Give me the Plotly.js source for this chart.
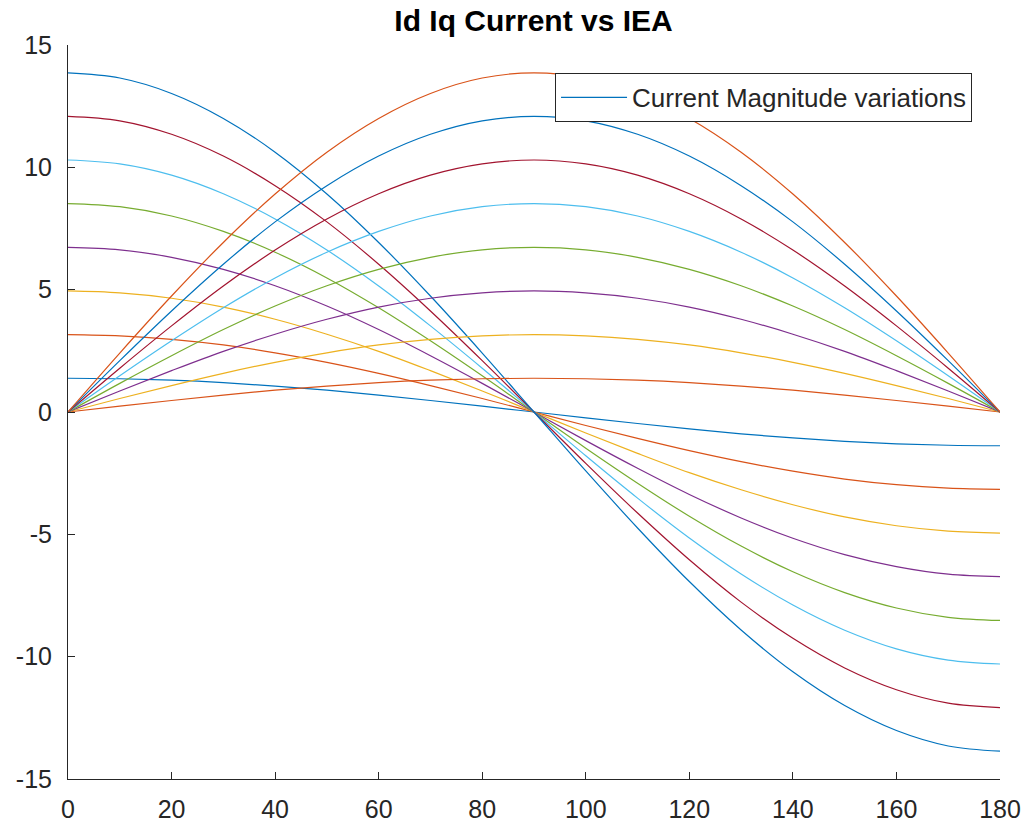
<!DOCTYPE html>
<html>
<head>
<meta charset="utf-8">
<script src="https://cdn.plot.ly/plotly-3.0.1.min.js"></script>
<style>
  html, body { margin: 0; padding: 0; background: #ffffff; }
  #chart { width: 1028px; height: 829px; }
</style>
</head>
<body>
<div id="chart"></div>
<script>
// Electrical angle (deg)
const angle = [0, 10, 20, 30, 40, 50, 60, 70, 80, 90, 100, 110, 120, 130, 140, 150, 160, 170, 180];

// Id for each current magnitude (A)
const id1 = [1.38, 1.36, 1.30, 1.20, 1.06, 0.89, 0.69, 0.47, 0.24, 0, -0.24, -0.47, -0.69, -0.89, -1.06, -1.20, -1.30, -1.36, -1.38];
const id2 = [3.16, 3.11, 2.97, 2.74, 2.42, 2.03, 1.58, 1.08, 0.55, 0, -0.55, -1.08, -1.58, -2.03, -2.42, -2.74, -2.97, -3.11, -3.16];
const id3 = [4.95, 4.87, 4.65, 4.29, 3.79, 3.18, 2.48, 1.69, 0.86, 0, -0.86, -1.69, -2.48, -3.18, -3.79, -4.29, -4.65, -4.87, -4.95];
const id4 = [6.73, 6.63, 6.32, 5.83, 5.16, 4.33, 3.37, 2.30, 1.17, 0, -1.17, -2.30, -3.37, -4.33, -5.16, -5.83, -6.32, -6.63, -6.73];
const id5 = [8.52, 8.39, 8.01, 7.38, 6.53, 5.48, 4.26, 2.91, 1.48, 0, -1.48, -2.91, -4.26, -5.48, -6.53, -7.38, -8.01, -8.39, -8.52];
const id6 = [10.30, 10.14, 9.68, 8.92, 7.89, 6.62, 5.15, 3.52, 1.79, 0, -1.79, -3.52, -5.15, -6.62, -7.89, -8.92, -9.68, -10.14, -10.30];
const id7 = [12.08, 11.90, 11.35, 10.46, 9.25, 7.77, 6.04, 4.13, 2.10, 0, -2.10, -4.13, -6.04, -7.77, -9.25, -10.46, -11.35, -11.90, -12.08];
const id8 = [13.86, 13.65, 13.02, 12.00, 10.62, 8.91, 6.93, 4.74, 2.41, 0, -2.41, -4.74, -6.93, -8.91, -10.62, -12.00, -13.02, -13.65, -13.86];

// Iq for each current magnitude (A)
const iq1 = [0, 0.24, 0.47, 0.69, 0.89, 1.06, 1.20, 1.30, 1.36, 1.38, 1.36, 1.30, 1.20, 1.06, 0.89, 0.69, 0.47, 0.24, 0];
const iq2 = [0, 0.55, 1.08, 1.58, 2.03, 2.42, 2.74, 2.97, 3.11, 3.16, 3.11, 2.97, 2.74, 2.42, 2.03, 1.58, 1.08, 0.55, 0];
const iq3 = [0, 0.86, 1.69, 2.48, 3.18, 3.79, 4.29, 4.65, 4.87, 4.95, 4.87, 4.65, 4.29, 3.79, 3.18, 2.48, 1.69, 0.86, 0];
const iq4 = [0, 1.17, 2.30, 3.37, 4.33, 5.16, 5.83, 6.32, 6.63, 6.73, 6.63, 6.32, 5.83, 5.16, 4.33, 3.37, 2.30, 1.17, 0];
const iq5 = [0, 1.48, 2.91, 4.26, 5.48, 6.53, 7.38, 8.01, 8.39, 8.52, 8.39, 8.01, 7.38, 6.53, 5.48, 4.26, 2.91, 1.48, 0];
const iq6 = [0, 1.79, 3.52, 5.15, 6.62, 7.89, 8.92, 9.68, 10.14, 10.30, 10.14, 9.68, 8.92, 7.89, 6.62, 5.15, 3.52, 1.79, 0];
const iq7 = [0, 2.10, 4.13, 6.04, 7.77, 9.25, 10.46, 11.35, 11.90, 12.08, 11.90, 11.35, 10.46, 9.25, 7.77, 6.04, 4.13, 2.10, 0];
const iq8 = [0, 2.41, 4.74, 6.93, 8.91, 10.62, 12.00, 13.02, 13.65, 13.86, 13.65, 13.02, 12.00, 10.62, 8.91, 6.93, 4.74, 2.41, 0];

const yTicks = [-15, -10, -5, 0, 5, 10, 15];
const xTicks = [0, 20, 40, 60, 80, 100, 120, 140, 160, 180];
const legendName = "Current Magnitude variations";

// Default line colour order, cycled across all columns
const palette = ["#0072BD", "#D95319", "#EDB120", "#7E2F8E", "#77AC30", "#4DBEEE", "#A2142F"];

const columns = [id1, id2, id3, id4, id5, id6, id7, id8, iq1, iq2, iq3, iq4, iq5, iq6, iq7, iq8];

const traces = columns.map((ys, i) => ({
  type: "scatter",
  mode: "lines",
  x: angle,
  y: ys,
  name: legendName,
  showlegend: i === 0,
  line: { color: palette[i % palette.length], width: 1.2, shape: "spline", smoothing: 1 },
  hoverinfo: "x+y"
}));

const axisColor = "#262626";
const baseFont = { family: "Liberation Sans, Arial, Helvetica, sans-serif", size: 25, color: axisColor };

const layout = {
  width: 1028,
  height: 829,
  paper_bgcolor: "#ffffff",
  plot_bgcolor: "#ffffff",
  margin: { l: 68, r: 28, t: 45, b: 50, pad: 0 },
  font: baseFont,
  title: {
    text: "<b>Id Iq Current vs IEA</b>",
    font: { family: baseFont.family, size: 30, color: "#000000" },
    x: 0.519,
    xanchor: "center",
    y: 0.975,
    yanchor: "middle"
  },
  xaxis: {
    range: [0, 180],
    tickvals: xTicks,
    ticktext: xTicks.map(String),
    ticks: "inside",
    ticklen: 7,
    tickwidth: 1,
    tickcolor: axisColor,
    showline: true,
    linecolor: axisColor,
    linewidth: 1,
    mirror: false,
    showgrid: false,
    zeroline: false,
    tickfont: baseFont,
    ticklabelstandoff: 8
  },
  yaxis: {
    range: [-15, 15],
    tickvals: yTicks,
    ticktext: yTicks.map(String),
    ticks: "inside",
    ticklen: 7,
    tickwidth: 1,
    tickcolor: axisColor,
    showline: true,
    linecolor: axisColor,
    linewidth: 1,
    mirror: false,
    showgrid: false,
    zeroline: false,
    tickfont: baseFont,
    ticklabelstandoff: 10
  },
  legend: {
    x: 0.97,
    xanchor: "right",
    y: 0.962,
    yanchor: "top",
    bgcolor: "#ffffff",
    bordercolor: axisColor,
    borderwidth: 1,
    font: { family: baseFont.family, size: 26, color: axisColor },
    itemwidth: 66
  },
  showlegend: true
};

Plotly.newPlot("chart", traces, layout, { displayModeBar: false, staticPlot: true });
</script>
</body>
</html>
